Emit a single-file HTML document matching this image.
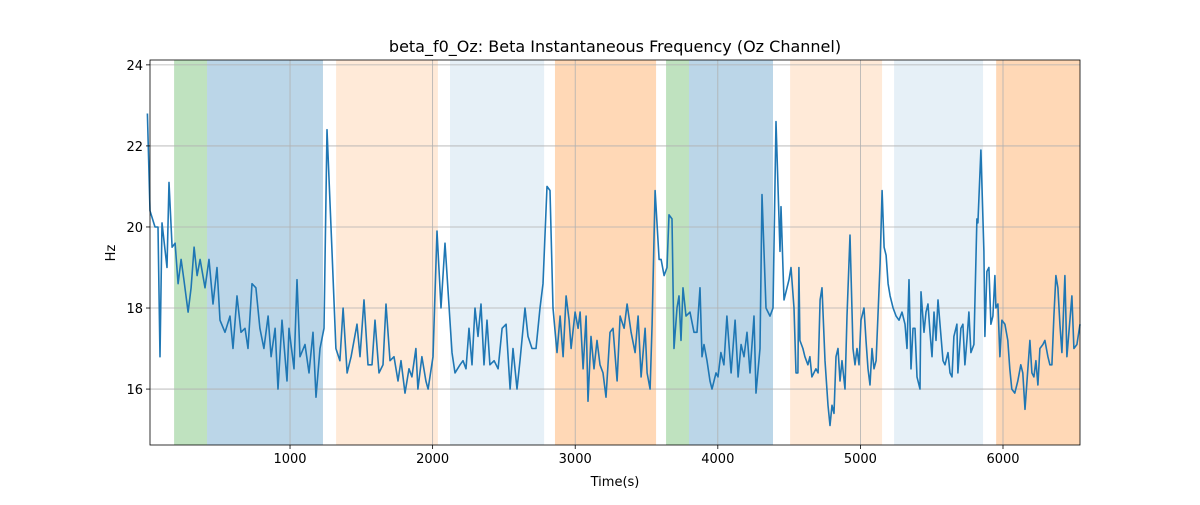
<!DOCTYPE html>
<html><head><meta charset="utf-8"><style>
body{margin:0;background:#fff;font-family:"Liberation Sans","DejaVu Sans",sans-serif}
svg text{font-family:"DejaVu Sans","Liberation Sans",sans-serif;fill:#000}
</style></head><body>
<svg id="chart" width="1200" height="500" viewBox="0 0 1200 500" xmlns="http://www.w3.org/2000/svg">
<rect width="1200" height="500" fill="#fff"/>
<g id="spans"></g><g id="grid"></g><g id="line"></g><g id="axes"></g>
<text x="615" y="52" font-size="16" text-anchor="middle">beta_f0_Oz: Beta Instantaneous Frequency (Oz Channel)</text>
<text x="615" y="486" font-size="13" text-anchor="middle">Time(s)</text>
<text x="115" y="253" font-size="13" text-anchor="middle" transform="rotate(-90 115 253)">Hz</text>
</svg>
<script>
const spanStarts=[187,418,1323,2122,2858,3637,3798,4507,5236,5952];
const spanEnds=[418,1231,2037,2782,3567,3798,4387,5152,5860,6540];
const spanKinds=["green","blue","lightorange","lightblue","orange","green","blue","lightorange","lightblue","orange"];
const xTicks=[1000,2000,3000,4000,5000,6000];
const yTicks=[16,18,20,22,24];
const times=[0,18,53,74,88,102,137,151,173,194,215,236,256,285,306,327,348,369,404,432,460,488,509,544,579,600,628,656,684,705,733,761,789,817,846,867,895,916,944,979,993,1028,1049,1070,1105,1133,1161,1182,1210,1238,1259,1294,1322,1350,1372,1400,1428,1470,1491,1519,1547,1575,1596,1624,1652,1673,1701,1729,1757,1778,1806,1834,1855,1883,1897,1925,1953,1968,2003,2031,2059,2087,2136,2157,2192,2213,2234,2255,2276,2297,2318,2339,2360,2381,2402,2431,2459,2487,2515,2543,2564,2592,2613,2648,2669,2697,2725,2753,2774,2802,2823,2844,2872,2894,2915,2936,2957,2971,2999,3020,3034,3055,3076,3090,3111,3132,3153,3174,3195,3216,3244,3265,3294,3315,3343,3364,3392,3420,3441,3462,3490,3504,3525,3539,3560,3588,3602,3623,3644,3658,3679,3693,3714,3728,3742,3756,3777,3805,3833,3854,3875,3889,3903,3924,3945,3959,3987,4001,4022,4043,4064,4093,4121,4142,4163,4184,4205,4226,4254,4268,4296,4310,4338,4366,4387,4408,4436,4443,4464,4485,4499,4513,4534,4548,4562,4569,4576,4597,4611,4632,4646,4660,4688,4703,4717,4731,4752,4773,4787,4801,4815,4829,4843,4857,4871,4892,4906,4927,4948,4962,4976,4990,5004,5025,5039,5053,5067,5081,5095,5110,5138,5152,5166,5180,5194,5208,5229,5250,5271,5292,5313,5327,5341,5355,5369,5383,5397,5418,5425,5446,5460,5474,5488,5502,5516,5530,5544,5558,5579,5593,5614,5628,5642,5656,5677,5684,5705,5719,5733,5747,5761,5775,5796,5817,5824,5845,5866,5873,5887,5901,5915,5929,5943,5950,5964,5978,5992,6013,6034,6048,6062,6083,6104,6125,6139,6154,6168,6189,6203,6217,6231,6245,6259,6280,6294,6315,6329,6343,6357,6371,6385,6399,6413,6434,6448,6469,6483,6497,6518,6540];
const values=[22.8,20.4,20.0,20.0,16.8,20.1,19.0,21.1,19.5,19.6,18.6,19.2,18.7,17.9,18.5,19.5,18.8,19.2,18.5,19.2,18.1,19.0,17.7,17.4,17.8,17.0,18.3,17.4,17.5,17.0,18.6,18.5,17.5,17.0,17.8,16.8,17.5,16.0,17.7,16.2,17.5,16.5,18.7,16.8,17.1,16.4,17.4,15.8,17.0,17.5,22.4,19.4,17.0,16.7,18.0,16.4,16.8,17.6,16.8,18.2,16.6,16.6,17.7,16.4,16.6,18.1,16.7,16.8,16.2,16.7,15.9,16.5,16.3,17.0,16.0,16.8,16.2,16.0,16.8,19.9,18.0,19.6,16.9,16.4,16.6,16.7,16.5,17.5,16.6,18.0,17.3,18.1,16.6,17.7,16.6,16.7,16.5,17.5,17.6,16.0,17.0,16.0,16.7,18.0,17.3,17.0,17.0,18.0,18.6,21.0,20.9,18.0,16.9,17.8,16.8,18.3,17.7,17.0,17.9,17.5,17.9,16.5,17.8,15.7,17.3,16.5,17.2,16.6,16.4,15.8,17.4,17.5,16.2,17.8,17.5,18.1,17.4,16.9,17.8,16.3,17.5,16.4,16.0,17.6,20.9,19.2,19.2,18.8,19.0,20.3,20.2,17.0,18.0,18.3,17.2,18.5,17.8,17.9,17.4,17.4,18.5,16.8,17.1,16.7,16.2,16.0,16.4,16.3,16.9,16.6,17.8,16.4,17.7,16.3,17.1,16.8,17.4,16.4,17.8,15.9,17.0,20.8,18.0,17.8,18.0,22.6,19.4,20.5,18.2,18.5,18.7,19.0,18.0,16.4,16.4,19.0,17.2,17.0,16.8,16.6,16.8,16.3,16.5,16.4,18.2,18.5,16.7,15.6,15.1,15.6,15.4,16.8,17.0,16.2,16.7,16.0,17.8,19.8,17.0,16.6,17.0,16.6,17.7,18.0,17.2,16.5,16.1,17.0,16.5,16.7,19.1,20.9,19.5,19.3,18.6,18.3,18.0,17.8,17.7,17.9,17.6,17.0,18.7,16.5,17.5,17.5,16.3,16.0,18.4,17.4,17.9,18.1,17.4,16.8,17.9,17.2,18.2,17.6,16.7,16.6,16.9,16.4,16.3,17.3,17.6,16.4,17.5,17.6,16.6,17.2,17.9,16.9,17.1,20.2,20.1,21.9,19.4,17.3,18.9,19.0,17.6,17.8,18.8,18.0,18.1,16.8,17.7,17.6,17.2,16.5,16.0,15.9,16.2,16.6,16.4,15.5,16.2,17.2,16.4,16.3,16.7,16.1,17.0,17.1,17.2,16.8,16.6,16.6,17.8,18.8,18.5,17.6,16.9,18.8,16.8,17.7,18.3,17.0,17.1,17.6];
const L=150,R=1080,T=60,B=445,X0=18,X1=6540,Y0=14.62,Y1=24.12;
const sx=t=>L+(t-X0)/(X1-X0)*(R-L);
const sy=v=>B-(v-Y0)/(Y1-Y0)*(B-T);
const NS="http://www.w3.org/2000/svg";
function mk(tag,parent,attrs){const e=document.createElementNS(NS,tag);for(const k in attrs)e.setAttribute(k,attrs[k]);parent.appendChild(e);return e;}
const spanStyle={green:["#2ca02c",0.3],blue:["#1f77b4",0.3],lightorange:["#ff7f0e",0.16],lightblue:["#1f77b4",0.11],orange:["#ff7f0e",0.3]};
const gs=document.getElementById('spans');
spanStarts.forEach((s,i)=>{
  const x0=Math.max(L,sx(s)),x1=Math.min(R,sx(spanEnds[i]));
  const st=spanStyle[spanKinds[i]];
  const r=mk('rect',gs,{x:x0,y:T,width:x1-x0,height:B-T,fill:st[0],'fill-opacity':st[1]});
  
  
});
const gg=document.getElementById('grid'),ga=document.getElementById('axes');
xTicks.forEach(t=>{
  const x=sx(t);
  const l=mk('line',gg,{x1:x,x2:x,y1:T,y2:B,stroke:'#b0b0b0','stroke-width':0.8});
  
  
  mk('line',ga,{x1:x,x2:x,y1:B,y2:B+4,stroke:'#000','stroke-width':0.8});
  const tx=mk('text',ga,{x:x,y:B+18,'font-size':13,'text-anchor':'middle'});
  tx.textContent=t;
  
  
});
yTicks.forEach(v=>{
  const y=sy(v);
  const l=mk('line',gg,{x1:L,x2:R,y1:y,y2:y,stroke:'#b0b0b0','stroke-width':0.8});
  
  
  mk('line',ga,{x1:L-4,x2:L,y1:y,y2:y,stroke:'#000','stroke-width':0.8});
  const tx=mk('text',ga,{x:L-7,y:y+5,'font-size':13,'text-anchor':'end'});
  tx.textContent=v;
  
  
});
const fr=mk('rect',ga,{x:L,y:T,width:R-L,height:B-T,fill:'none',stroke:'#000','stroke-width':0.8});


const d=times.map((t,i)=>(i?'L':'M')+sx(t).toFixed(1)+' '+sy(values[i]).toFixed(1)).join(' ');
const p=mk('path',document.getElementById('line'),{d:d,fill:'none',stroke:'#1f77b4','stroke-width':1.6,'stroke-linejoin':'round'});


</script>
</body></html>
